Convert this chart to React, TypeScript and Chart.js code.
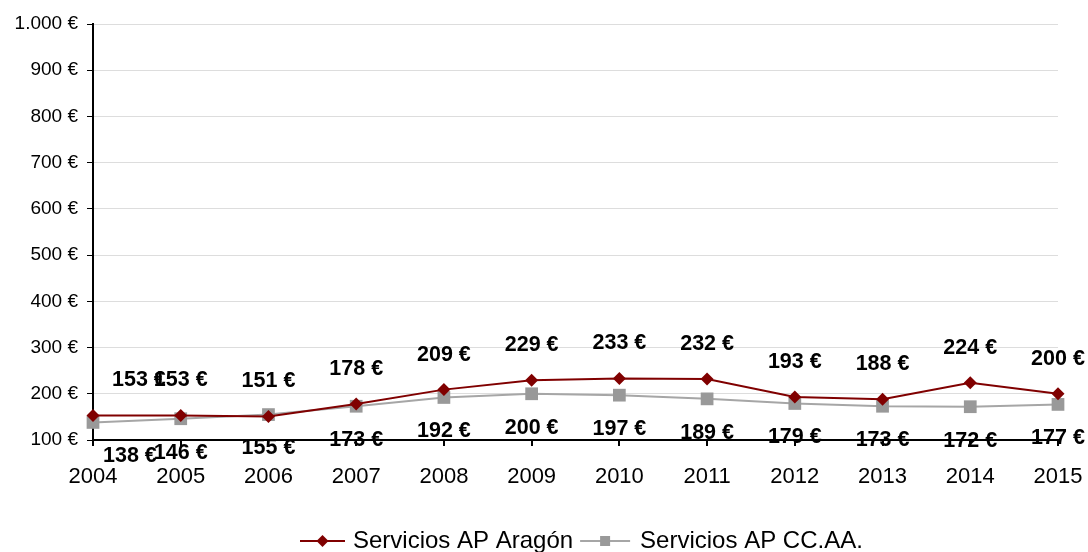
import React, { useEffect, useRef } from 'react';
import { Chart, registerables } from 'chart.js';

Chart.register(...registerables);

const years: string[] = ['2004', '2005', '2006', '2007', '2008', '2009', '2010', '2011', '2012', '2013', '2014', '2015'];
const aragon: number[] = [153, 153, 151, 178, 209, 229, 233, 232, 193, 188, 224, 200];
const ccaa: number[] = [138, 146, 155, 173, 192, 200, 197, 189, 179, 173, 172, 177];
const seriesNames: string[] = ['Servicios AP Aragón', 'Servicios AP CC.AA.'];
const yMin = 100;
const yMax = 1000;
const yStep = 100;

const RED = '#800000';
const GRAY = '#999999';
const FONT = '"Liberation Sans", Arial, sans-serif';

const fmt = (v: number) => String(v).replace(/\B(?=(\d{3})+(?!\d))/g, '.') + ' €';

const labelPlugin = {
  id: 'valueLabels',
  afterDatasetsDraw(chart: any) {
    const ctx = chart.ctx;
    ctx.save();
    ctx.font = `bold 21.5px ${FONT}`;
    ctx.fillStyle = '#000';
    ctx.textAlign = 'center';
    ctx.textBaseline = 'middle';
    chart.data.datasets.forEach((ds: any, i: number) => {
      const meta = chart.getDatasetMeta(i);
      const off = i === 0 ? -35 : 34;
      meta.data.forEach((pt: any, j: number) => {
        const txt = fmt(ds.data[j]);
        const w = ctx.measureText(txt).width;
        const minLeft = i === 0 ? 19 : 10;
        const x = Math.max(pt.x, chart.chartArea.left + w / 2 + minLeft);
        ctx.fillText(txt, x, pt.y + off);
      });
    });
    ctx.restore();
  },
};

const legendPlugin = {
  id: 'customLegend',
  afterDraw(chart: any) {
    const ctx = chart.ctx;
    const y = 541;
    let x = 300;
    ctx.save();
    ctx.font = `24px ${FONT}`;
    ctx.textBaseline = 'middle';
    ctx.textAlign = 'left';
    chart.data.datasets.forEach((ds: any, i: number) => {
      const lineLen = i === 0 ? 45 : 50;
      ctx.strokeStyle = ds.borderColor;
      ctx.lineWidth = 2;
      ctx.beginPath();
      ctx.moveTo(x, y);
      ctx.lineTo(x + lineLen, y);
      ctx.stroke();
      ctx.fillStyle = ds.pointBackgroundColor;
      const cx = x + lineLen / 2;
      if (i === 0) {
        const r = 6;
        ctx.beginPath();
        ctx.moveTo(cx, y - r);
        ctx.lineTo(cx + r, y);
        ctx.lineTo(cx, y + r);
        ctx.lineTo(cx - r, y);
        ctx.closePath();
        ctx.fill();
      } else {
        const s = 5;
        ctx.fillRect(cx - s, y - s, 2 * s, 2 * s);
      }
      x += lineLen + (i === 0 ? 8 : 10);
      ctx.fillStyle = '#000';
      ctx.fillText(ds.label, x, y);
      x += ctx.measureText(ds.label).width + 7;
    });
    ctx.restore();
  },
};

export default function App() {
  const ref = useRef<HTMLCanvasElement | null>(null);

  useEffect(() => {
    document.body.style.margin = '0';
    if (!ref.current) return;
    const chart = new Chart(ref.current, {
      type: 'line',
      data: {
        labels: years,
        datasets: [
          {
            label: seriesNames[0],
            data: aragon,
            borderColor: RED,
            backgroundColor: RED,
            pointBackgroundColor: RED,
            pointBorderColor: RED,
            pointStyle: 'rectRot',
            pointRadius: 6.5,
            pointBorderWidth: 0,
            borderWidth: 2,
            tension: 0,
            clip: false,
          },
          {
            label: seriesNames[1],
            data: ccaa,
            borderColor: '#a6a6a6',
            backgroundColor: GRAY,
            pointBackgroundColor: GRAY,
            pointBorderColor: GRAY,
            pointStyle: 'rect',
            pointRadius: 9,
            pointBorderWidth: 0,
            borderWidth: 2,
            tension: 0,
            clip: false,
          },
        ],
      },
      options: {
        responsive: false,
        animation: false,
        layout: { padding: { left: 0, right: 30, top: 24, bottom: 52 } },
        plugins: {
          legend: { display: false },
          tooltip: { enabled: false },
        },
        scales: {
          x: {
            offset: false,
            grid: { drawOnChartArea: false, drawTicks: true, tickLength: 6, tickColor: '#000', lineWidth: 2 },
            border: { color: '#000', width: 2 },
            ticks: { color: '#000', font: { size: 22, family: FONT }, padding: 18, maxRotation: 0, autoSkip: false },
            afterFit: (s: any) => {
              s.height = 60;
              s.paddingLeft = 0;
              s.paddingRight = 0;
            },
          },
          y: {
            min: yMin,
            max: yMax,
            grid: { color: '#dddddd', lineWidth: 1, tickLength: 6, tickColor: '#000' },
            border: { color: '#000', width: 2 },
            ticks: {
              stepSize: yStep,
              color: '#000',
              font: { size: 19, family: FONT },
              padding: 9,
              callback: (v: any) => fmt(Number(v)),
            },
            afterFit: (s: any) => {
              s.width = 93;
              s.paddingTop = 0;
              s.paddingBottom = 0;
            },
          },
        },
      },
      plugins: [labelPlugin, legendPlugin],
    });
    return () => chart.destroy();
  }, []);

  return (
    <div style={{ width: 1088, height: 552 }}>
      <canvas ref={ref} width={1088} height={552} style={{ display: 'block' }} />
    </div>
  );
}
